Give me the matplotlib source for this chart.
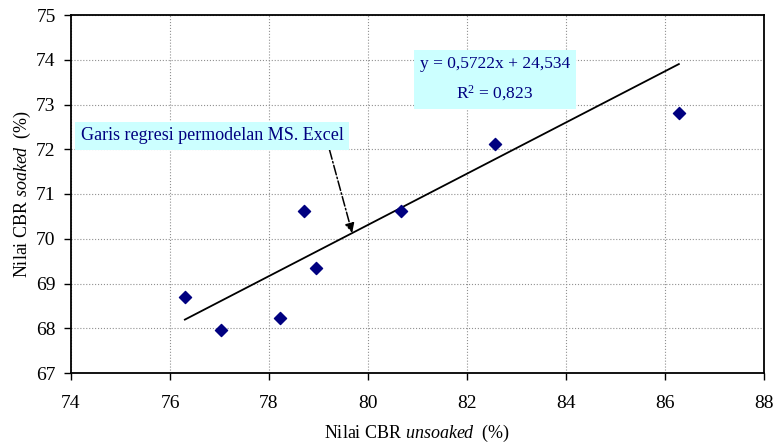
import numpy as np
import matplotlib
matplotlib.use("Agg")
import matplotlib.pyplot as plt

plt.rcParams['font.family'] = ['Liberation Serif', 'DejaVu Serif']
plt.rcParams['mathtext.fontset'] = 'custom'
plt.rcParams['mathtext.rm'] = 'Liberation Serif'
plt.rcParams['mathtext.it'] = 'Liberation Serif:italic'

# Data
cbr_unsoaked = [76.30, 77.03, 78.22, 78.71, 78.95, 80.67, 82.57, 86.28]
cbr_soaked = [68.70, 67.96, 68.23, 70.62, 69.35, 70.62, 72.12, 72.81]

# Regression stated on the chart
slope = 0.5722
intercept = 24.534
eq_label = "y = 0,5722x + 24,534"
r2_label = "0,823"

navy = '#000080'
box_fc = '#ccffff'

fig = plt.figure(figsize=(7.74, 4.46), dpi=100)
ax = fig.add_axes([71/774, 1 - 373/446, (764-71)/774, (373-15)/446])

ax.scatter(cbr_unsoaked, cbr_soaked, marker='D', s=38, color=navy, zorder=3)

xr = np.array([min(cbr_unsoaked), max(cbr_unsoaked)])
ax.plot(xr, slope*xr + intercept, color='black', lw=1.3, zorder=2)

ax.set_xlim(74, 88)
ax.set_ylim(67, 75)
ax.set_xticks(np.arange(74, 89, 2))
ax.set_yticks(np.arange(67, 76, 1))
ax.grid(True, color='#909090', linestyle=':', lw=0.8)
ax.set_axisbelow(True)
ax.tick_params(direction='out', length=5, width=1, labelsize=14)
ax.tick_params(axis='x', pad=11)
ax.tick_params(axis='y', pad=6)
for sp in ax.spines.values():
    sp.set_linewidth(1.3)
    sp.set_color('black')

ax.set_xlabel(r'Nilai CBR $\mathit{unsoaked}$  (%)', fontsize=13, labelpad=8)
ax.set_ylabel(r'Nilai CBR $\mathit{soaked}$  (%)', fontsize=13, labelpad=2)

eq = eq_label + '\n' + r'R$^2$ = ' + r2_label
ax.text(82.56, 73.56, eq, ha='center', va='center', fontsize=12.5, color=navy,
        linespacing=1.8,
        bbox=dict(boxstyle='square,pad=0.35', fc=box_fc, ec='none'), zorder=4)

ax.annotate('Garis regresi permodelan MS. Excel', xy=(79.68, 70.13),
            xytext=(74.2, 72.3), ha='left', va='center', fontsize=13, color=navy,
            bbox=dict(boxstyle='square,pad=0.3', fc=box_fc, ec='none'),
            arrowprops=dict(arrowstyle='-|>', color='black', linestyle='-.',
                            lw=1.1, mutation_scale=14,
                            relpos=(0.94, 0.0), shrinkA=0, shrinkB=0),
            zorder=4)

fig.savefig('out.png', dpi=100)
